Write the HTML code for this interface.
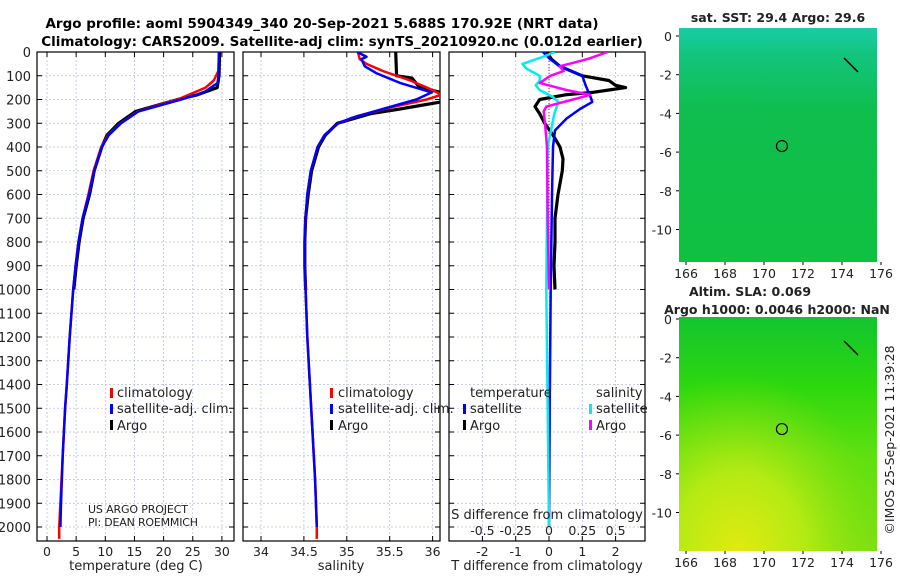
<!DOCTYPE html>
<html><head><meta charset="utf-8"><style>
html,body{margin:0;padding:0;background:#fff;width:900px;height:580px;overflow:hidden}
svg{display:block;font-family:"DejaVu Sans","Liberation Sans",sans-serif}
</style></head><body>
<svg id="fig" width="900" height="580" viewBox="0 0 900 580">
<defs>
<linearGradient id="sstg" x1="0" y1="0" x2="0" y2="1">
<stop offset="0" stop-color="#18cca6"/><stop offset="0.12" stop-color="#12c47c"/><stop offset="0.35" stop-color="#0fbe4e"/><stop offset="1" stop-color="#10c040"/></linearGradient>
<radialGradient id="slay" cx="0.3" cy="1" r="0.75"><stop offset="0" stop-color="#e0ea10"/><stop offset="0.45" stop-color="#b4ea14"/><stop offset="1" stop-color="#7ee010" stop-opacity="0"/></radialGradient>
<linearGradient id="slag" x1="0" y1="0" x2="0" y2="1"><stop offset="0" stop-color="#12c430"/><stop offset="0.3" stop-color="#2ed80e"/><stop offset="0.6" stop-color="#60e010"/><stop offset="1" stop-color="#7ee010"/></linearGradient>
</defs>
<text x="322" y="28" text-anchor="middle" font-weight="bold" font-size="13.5">Argo profile: aoml 5904349_340 20-Sep-2021 5.688S 170.92E (NRT data)</text>
<text x="342" y="46" text-anchor="middle" font-weight="bold" font-size="13.5">Climatology: CARS2009. Satellite-adj clim: synTS_20210920.nc (0.012d earlier)</text>
<g id="plots"></g>
</svg>
<script>
// ---------- data ----------
const depthTicks=[0,100,200,300,400,500,600,700,800,900,1000,1100,1200,1300,1400,1500,1600,1700,1800,1900,2000];
const tempTicks=[0,5,10,15,20,25,30];
const salTicks=[34,34.5,35,35.5,36];
const salTickLabels=["34","34.5","35","35.5","36"];
const diffTicks=[-2,-1,0,1,2];
const sdiffTicks=[-0.5,-0.25,0,0.25,0.5];
const sdiffTickLabels=["-0.5","-0.25","0","0.25","0.5"];

const argoTempDepth=[0,100,150,180,200,250,300,350,400,500,600,700,800,900,1000];
const argoTemp=[29.6,29.5,29.2,25.8,22.4,15.2,12.3,10.3,9.4,8.1,7.3,6.2,5.5,5.0,4.6];
const climTempDepth=[0,80,120,150,200,250,300,350,400,500,600,700,800,900,1000,1200,1400,1500,1700,1900,2000,2050];
const climTemp=[29.5,29.4,28.6,27.2,22.4,15.6,12.6,10.5,9.3,8.0,7.1,6.1,5.4,4.9,4.5,3.9,3.4,3.1,2.7,2.3,2.1,2.1];
const satTempDepth=[0,100,130,170,200,250,300,350,400,500,600,700,800,900,1000,1200,1400,1500,1700,1900,2000];
const satTemp=[29.5,29.4,29.3,26.9,23.0,15.7,12.7,10.6,9.4,8.1,7.2,6.1,5.4,4.9,4.5,3.9,3.4,3.1,2.7,2.4,2.3];

const argoSalDepth=[0,100,110,150,170,210,240,260,300,350,400,500,600,700,800,900,1000];
const argoSal=[35.57,35.58,35.76,35.85,36.1,36.1,35.62,35.27,34.89,34.75,34.67,34.59,34.55,34.52,34.51,34.51,34.52];
const climSalDepth=[0,30,50,80,120,160,180,200,230,270,300,350,400,500,600,700,800,900,1000,1200,1400,1600,1800,2000,2050];
const climSal=[35.13,35.15,35.23,35.42,35.74,36.0,36.1,35.93,35.55,35.12,34.9,34.74,34.66,34.58,34.54,34.52,34.51,34.51,34.52,34.54,34.57,34.6,34.63,34.65,34.65];
const satSalDepth=[0,20,30,60,90,130,170,200,240,280,300,350,400,500,600,700,800,900,1000,1200,1400,1600,1800,2000];
const satSal=[35.12,35.23,35.17,35.21,35.35,35.62,35.99,35.81,35.42,35.04,34.9,34.74,34.66,34.58,34.54,34.52,34.51,34.51,34.52,34.54,34.57,34.6,34.63,34.65];

const argoTdDepth=[0,30,60,100,120,140,150,160,170,180,200,230,260,300,350,400,450,500,600,700,800,900,1000];
const argoTd=[-0.06,0.07,0.33,1.0,1.8,2.0,2.3,1.8,1.3,0.5,-0.28,-0.42,-0.28,-0.13,0.12,0.33,0.42,0.4,0.27,0.18,0.18,0.15,0.18];
const satTdDepth=[0,30,60,100,140,190,210,240,280,330,400,600,1000,1500,2000];
const satTd=[-0.18,0.03,0.33,1.0,1.1,1.25,1.3,0.93,0.53,0.18,0.12,0.09,0.05,0.02,0];
const argoSdDepth=[0,30,60,80,100,130,160,180,200,230,250,300,400,700,1000];
const argoSd=[0.44,0.29,0.08,0.11,0.01,-0.07,0.13,0.31,0.18,-0.02,-0.04,-0.03,-0.015,-0.01,0];
const satSdDepth=[0,20,50,70,100,120,140,160,190,210,260,400,1000,1500,2000];
const satSd=[0.045,-0.045,-0.2,-0.17,-0.07,-0.07,-0.1,-0.07,0.03,0.07,0.04,-0.01,-0.02,-0.01,0];

const lonTicks=[166,168,170,172,174,176];
const latTicks=[0,-2,-4,-6,-8,-10];
const floatLon=170.92, floatLat=-5.688;

// ---------- helpers ----------
const NS="http://www.w3.org/2000/svg";
const root=document.getElementById('plots');
function mk(tag,attrs,parent){const e=document.createElementNS(NS,tag);for(const k in attrs)e.setAttribute(k,attrs[k]);(parent||root).appendChild(e);return e;}
const Y0=52,YB=541;
const py=d=>Y0+d*0.2375;
const xT=v=>47+v*5.83;
const xS=v=>261+(v-34)*85.8;
const xD=v=>549+v*33.3;
const xSD=v=>549+v*4*33.3;
const panels=[[37,234],[243,440],[449,645]];

function panelFrame(i,xs,xfun,labels,name){
  const [l,r]=panels[i];
  const g=mk('g',{});
  
  
  depthTicks.forEach(d=>{const ln=mk('line',{x1:l,x2:r,y1:py(d),y2:py(d),stroke:'#b8c0dc','stroke-width':0.8,'stroke-dasharray':'2,2'},g);
    
    mk('line',{x1:l,x2:l+5,y1:py(d),y2:py(d),stroke:'#000'},g);mk('line',{x1:r-5,x2:r,y1:py(d),y2:py(d),stroke:'#000'},g);});
  xs.forEach((v,k)=>{const x=xfun(v);const ln=mk('line',{x1:x,x2:x,y1:Y0,y2:YB,stroke:'#b8c0dc','stroke-width':0.8,'stroke-dasharray':'2,2'},g);
    
    mk('line',{x1:x,x2:x,y1:YB-5,y2:YB,stroke:'#000'},g);mk('line',{x1:x,x2:x,y1:Y0,y2:Y0+5,stroke:'#000'},g);
    const t=mk('text',{x:x,y:556,'text-anchor':'middle','font-size':12.5,fill:'#222'},g);t.textContent=labels[k];
    });
  mk('rect',{x:l,y:Y0,width:r-l,height:YB-Y0,fill:'none',stroke:'#000','stroke-width':1.2},g);
  return g;
}
function line(xa,da,xfun,color,w,name,g){
  const pts=xa.map((v,k)=>xfun(v).toFixed(1)+','+py(da[k]).toFixed(1)).join(' ');
  const p=mk('polyline',{points:pts,fill:'none',stroke:color,'stroke-width':w,'stroke-linejoin':'round'},g);
  
}
function clip(i,id){const c=mk('clipPath',{id:id});const [l,r]=panels[i];mk('rect',{x:l,y:Y0,width:r-l,height:YB-Y0},c);return 'url(#'+id+')';}
function txt(x,y,s,size,name,extra){const t=mk('text',Object.assign({x:x,y:y,'font-size':size,fill:'#222'},extra||{}));t.textContent=s;
  return t;}
function legendMark(x,y,color){const r=mk('rect',{x:x,y:y-10,width:3,height:10,fill:color});}

depthTicks.forEach(d=>{txt(31,py(d)+5,String(d),13,'y-tick-label',{'text-anchor':'end'});});

// panel 1 temperature
panelFrame(0,tempTicks,xT,tempTicks.map(String),'temperature-panel');
const g1=mk('g',{'clip-path':clip(0,'c1')});
line(argoTemp,argoTempDepth,xT,'#000',3.2,'argo-temperature-line',g1);
line(climTemp,climTempDepth,xT,'#f00',2.5,'climatology-temperature-line',g1);
line(satTemp,satTempDepth,xT,'#00f',2.5,'satellite-temperature-line',g1);
txt(136,570,'temperature (deg C)',13,'temperature-axis-title',{'text-anchor':'middle'});
legendMark(110,398,'#f00');txt(117,397,'climatology',13,'legend-climatology');
legendMark(110,414,'#00f');txt(117,413,'satellite-adj. clim.',13,'legend-satellite-adj');
legendMark(110,430,'#000');txt(117,430,'Argo',13,'legend-argo');
txt(88,513,'US ARGO PROJECT',11,'project-credit',{'textLength':100});
txt(88,526,'PI: DEAN ROEMMICH',11,'pi-credit',{'textLength':110});

// panel 2 salinity
panelFrame(1,salTicks,xS,salTickLabels,'salinity-panel');
const g2=mk('g',{'clip-path':clip(1,'c2')});
line(argoSal,argoSalDepth,xS,'#000',3.2,'argo-salinity-line',g2);
line(climSal,climSalDepth,xS,'#f00',2.5,'climatology-salinity-line',g2);
line(satSal,satSalDepth,xS,'#00f',2.5,'satellite-salinity-line',g2);
txt(341,570,'salinity',13,'salinity-axis-title',{'text-anchor':'middle'});
legendMark(330,398,'#f00');txt(338,397,'climatology',13,'legend-climatology-2');
legendMark(330,414,'#00f');txt(338,413,'satellite-adj. clim.',13,'legend-satellite-adj-2');
legendMark(330,430,'#000');txt(338,430,'Argo',13,'legend-argo-2');

// panel 3 differences
panelFrame(2,diffTicks,xD,diffTicks.map(String),'difference-panel');
const g3=mk('g',{'clip-path':clip(2,'c3')});
mk('line',{x1:xD(0),x2:xD(0),y1:Y0,y2:py(1000),stroke:'#444','stroke-width':1,'stroke-dasharray':'1,2'},g3);
line(argoTd,argoTdDepth,xD,'#000',3.2,'argo-temp-diff-line',g3);
line(satTd,satTdDepth,xD,'#00f',2.5,'satellite-temp-diff-line',g3);
line(satSd,satSdDepth,xSD,'#0ee','2.5','satellite-sal-diff-line',g3);
line(argoSd,argoSdDepth,xSD,'#f0f',2.5,'argo-sal-diff-line',g3);
txt(547,570,'T difference from climatology',13,'t-diff-axis-title',{'text-anchor':'middle'});
txt(547,519,'S difference from climatology',13,'s-diff-axis-title',{'text-anchor':'middle'});
sdiffTicks.forEach((v,k)=>txt(xSD(v),535,sdiffTickLabels[k],12.5,'s-diff-tick-label',{'text-anchor':'middle'}));
txt(470,397,'temperature',13,'legend-temperature-header');
txt(596,397,'salinity',13,'legend-salinity-header');
legendMark(463,414,'#00f');txt(470,413,'satellite',13,'legend-temp-satellite');
legendMark(463,430,'#000');txt(470,430,'Argo',13,'legend-temp-argo');
legendMark(589,414,'#0ee');txt(596,413,'satellite',13,'legend-sal-satellite');
legendMark(589,430,'#f0f');txt(596,430,'Argo',13,'legend-sal-argo');

// maps
function map(top,bottom,lat0y,fill,name,overlay){
  const l=679,r=877;
  const g=mk('g',{});
  const mx=lon=>686+(lon-166)*19.5;
  const my=lat=>lat0y-lat*19.35;
  mk('rect',{x:l,y:top,width:r-l,height:bottom-top,fill:fill},g);
  if(overlay)mk('rect',{x:l,y:top,width:r-l,height:bottom-top,fill:overlay},g);
  lonTicks.forEach(v=>{mk('line',{x1:mx(v),x2:mx(v),y1:bottom,y2:bottom+3,stroke:'#000'},g);
    const t=mk('text',{x:mx(v),y:bottom+16,'text-anchor':'middle','font-size':12.5,fill:'#222'},g);t.textContent=String(v);
    });
  latTicks.forEach(v=>{mk('line',{x1:l-3,x2:l,y1:my(v),y2:my(v),stroke:'#000'},g);
    const t=mk('text',{x:l-7,y:my(v)+5,'text-anchor':'end','font-size':12.5,fill:'#222'},g);t.textContent=String(v);
    });
  const c=mk('circle',{cx:mx(floatLon),cy:my(floatLat),r:5.5,fill:'none',stroke:'#000','stroke-width':1.2},g);
  
  mk('line',{x1:844,y1:lat0y+22,x2:858,y2:lat0y+36,stroke:'#000','stroke-width':1.5},g);
}
map(28,262,36,'url(#sstg)','sst-map');
map(317,551,319,'url(#slag)','sla-map','url(#slay)');
txt(778,22,'sat. SST: 29.4 Argo: 29.6',12.5,'sst-map-title',{'text-anchor':'middle','font-weight':'bold'});
txt(750,296,'Altim. SLA: 0.069',12.5,'sla-map-title',{'text-anchor':'middle','font-weight':'bold'});
txt(777,314,'Argo h1000: 0.0046 h2000: NaN',12.5,'sla-map-subtitle',{'text-anchor':'middle','font-weight':'bold'});
txt(0,0,'©IMOS 25-Sep-2021 11:39:28',12.5,'timestamp-credit',{'text-anchor':'middle','transform':'translate(894,440) rotate(-90)'});
</script>
</body></html>
